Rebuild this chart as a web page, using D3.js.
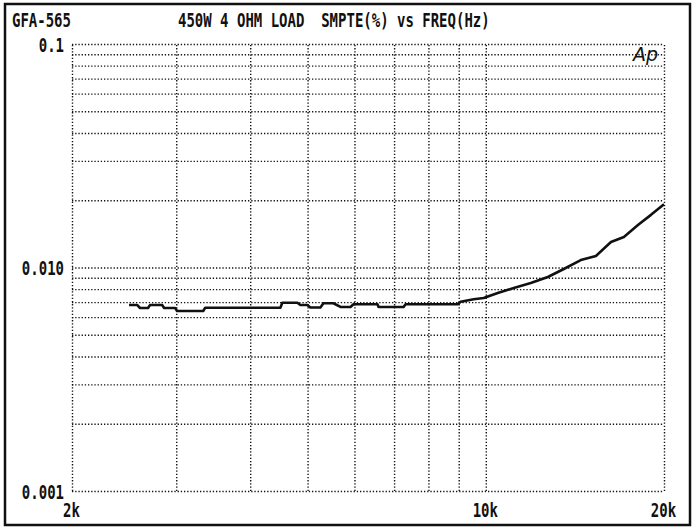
<!DOCTYPE html>
<html>
<head>
<meta charset="utf-8">
<script src="https://cdn.jsdelivr.net/npm/d3@7"></script>
<style>
  html, body { margin: 0; padding: 0; background: #fff; }
  svg { display: block; }
</style>
</head>
<body>
<svg id="chart" width="697" height="528"></svg>
<script>
// ---- data ----
const freqs = [2497, 2576, 2606, 2688, 2710, 2840, 2862, 2988, 3010, 3332, 3358, 4498, 4532, 4806,
  4862, 4996, 5054, 5256, 5318, 5528, 5682, 5908, 5978, 6562, 6590, 7264, 7320, 8962, 9068, 9540,
  9918, 10476, 11150, 11912, 12730, 13544, 14470, 15348, 16272, 17112, 18072, 19012, 20000];
const smpte = [0.00680, 0.00680, 0.00659, 0.00659, 0.00680, 0.00680, 0.00659, 0.00659, 0.00639, 0.00639, 0.00661, 0.00661, 0.00696, 0.00696,
  0.00680, 0.00680, 0.00662, 0.00662, 0.00692, 0.00692, 0.00666, 0.00666, 0.00685, 0.00685, 0.00666, 0.00666, 0.00685, 0.00685, 0.00703, 0.00721,
  0.00731, 0.00769, 0.00810, 0.00852, 0.00907, 0.00985, 0.0108, 0.01126, 0.0130, 0.0137, 0.0155, 0.0172, 0.0192];

const xGridValues = [2000, 3000, 4000, 5000, 6000, 7000, 8000, 9000, 10000, 20000];
const xTickValues = [2000, 10000, 20000];
const xTickLabels = ["2k", "10k", "20k"];

const yGridValues = [0.001, 0.002, 0.003, 0.004, 0.005, 0.006, 0.007, 0.008, 0.009,
  0.01, 0.02, 0.03, 0.04, 0.05, 0.06, 0.07, 0.08, 0.09, 0.1];
const yTickValues = [0.1, 0.01, 0.001];
const yTickLabels = ["0.1", "0.010", "0.001"];

const titleLeft = "GFA-565";
const titleMain = "450W 4 OHM LOAD  SMPTE(%) vs FREQ(Hz)";
const logoText = "Ap";

// ---- layout ----
const svg = d3.select("#chart");
const L = 72, R = 664, T = 44, B = 491;
const x = d3.scaleLog().domain([2000, 20000]).range([L, R]);
const y = d3.scaleLog().domain([0.001, 0.1]).range([B, T]);

const monoFont = "'DejaVu Sans Mono', 'Liberation Mono', monospace";

// outer frame
svg.append("rect")
  .attr("x", 5).attr("y", 4).attr("width", 685).attr("height", 521)
  .attr("fill", "#fff").attr("stroke", "#111").attr("stroke-width", 2.5);

// grid: vertical
const gx = svg.append("g").attr("transform", `translate(0,${B})`)
  .call(d3.axisBottom(x).tickValues(xGridValues).tickSize(-(B - T)).tickFormat(""));
gx.select(".domain").remove();
gx.selectAll(".tick line")
  .attr("stroke", "#111").attr("stroke-width", 1.4).attr("stroke-dasharray", "1.3,1.9");

// grid: horizontal
const gy = svg.append("g").attr("transform", `translate(${L},0)`)
  .call(d3.axisLeft(y).tickValues(yGridValues).tickSize(-(R - L)).tickFormat(""));
gy.select(".domain").remove();
gy.selectAll(".tick line")
  .attr("stroke", "#111").attr("stroke-width", 1.4).attr("stroke-dasharray", "1.3,1.9");

// y labels
const ly = svg.append("g").attr("transform", `translate(${L},0)`)
  .call(d3.axisLeft(y).tickValues(yTickValues).tickSize(0)
    .tickFormat((d, i) => yTickLabels[yTickValues.indexOf(d)]));
ly.select(".domain").remove();
ly.selectAll(".tick text")
  .attr("x", 0).attr("y", 0).attr("dy", null)
  .attr("transform", "translate(-8,7) scale(1,1.38)")
  .attr("text-anchor", "end")
  .attr("font-family", monoFont).attr("font-size", 14).attr("font-weight", "bold")
  .attr("fill", "#111");

// x labels
const lx = svg.append("g").attr("transform", `translate(0,${B})`)
  .call(d3.axisBottom(x).tickValues(xTickValues).tickSize(0)
    .tickFormat(d => xTickLabels[xTickValues.indexOf(d)]));
lx.select(".domain").remove();
lx.selectAll(".tick text")
  .attr("x", 0).attr("y", 0).attr("dy", null)
  .attr("transform", "translate(-1,26) scale(1,1.38)")
  .attr("text-anchor", "middle")
  .attr("font-family", monoFont).attr("font-size", 14).attr("font-weight", "bold")
  .attr("fill", "#111");

// titles
svg.append("text")
  .attr("transform", "translate(12,27) scale(1,1.38)")
  .attr("font-family", monoFont).attr("font-size", 14).attr("font-weight", "bold")
  .attr("fill", "#111").style("white-space", "pre")
  .text(titleLeft);
svg.append("text")
  .attr("transform", "translate(178,27) scale(1,1.38)")
  .attr("font-family", monoFont).attr("font-size", 14).attr("font-weight", "bold")
  .attr("fill", "#111").style("white-space", "pre")
  .text(titleMain);

// logo
svg.append("text")
  .attr("x", 633).attr("y", 61)
  .attr("font-family", "'DejaVu Sans', sans-serif").attr("font-size", 19)
  .attr("font-style", "italic").attr("fill", "#111")
  .text(logoText);

// data line
const line = d3.line().x((d, i) => x(freqs[i])).y(d => y(d));
svg.append("path")
  .datum(smpte)
  .attr("fill", "none")
  .attr("stroke", "#111")
  .attr("stroke-width", 2.6)
  .attr("stroke-linejoin", "round")
  .attr("d", line);
</script>
</body>
</html>
